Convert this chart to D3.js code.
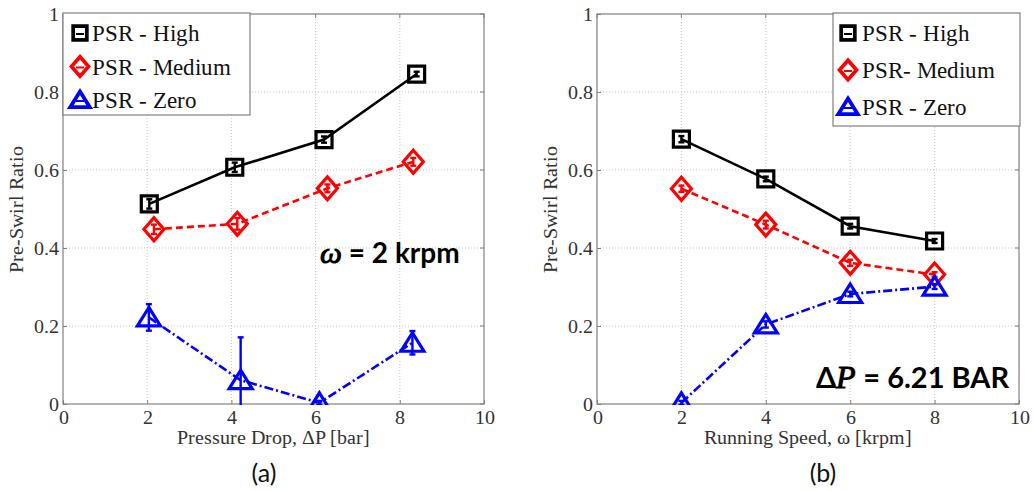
<!DOCTYPE html>
<html>
<head>
<meta charset="utf-8">
<script src="https://cdn.jsdelivr.net/npm/d3@7"></script>
<style>
  @font-face {
    font-family: "PlotSerif";
    src: local("Liberation Serif"), local("LiberationSerif"), local("LiberationSerif-Regular"),
         local("Times New Roman"), local("DejaVu Serif"), local("DejaVuSerif"), local("Noto Serif");
  }
  @font-face {
    font-family: "PlotSerif";
    font-style: italic;
    src: local("Liberation Serif Italic"), local("LiberationSerif-Italic"),
         local("DejaVu Serif Italic"), local("DejaVuSerif-Italic");
  }
  html, body { margin: 0; padding: 0; background: #fff; }
  svg { display: block; }
  .serif { font-family: "PlotSerif", "Liberation Serif", "DejaVu Serif", serif; }
</style>
</head>
<body>
<svg id="chart" width="1034" height="491"></svg>
<script>
// Pre-swirl ratio measurements, panel (a): varying pressure drop at 2 krpm
const seriesNames = ["PSR - High", "PSR - Medium", "PSR - Zero"];
const seriesNamesB = ["PSR - High", "PSR- Medium", "PSR - Zero"];

const dpHigh = [2.05, 4.08, 6.2, 8.4];
const dpMedium = [2.16, 4.14, 6.28, 8.32];
const dpZero = [2.04, 4.22, 6.09, 8.3];
const psrHighA = [0.513, 0.607, 0.678, 0.846];
const psrMediumA = [0.448, 0.462, 0.553, 0.621];
const psrZeroA = [0.222, 0.061, 0.003, 0.157];
const errHighA = [0.012, 0.012, 0.008, 0.006];
const errMediumA = [0.012, 0.015, 0.01, 0.01];
const errZeroA = [0.034, 0.11, 0.005, 0.03];

// Panel (b): varying running speed at 6.21 bar
const speed = [2, 4, 6, 8];
const psrHighB = [0.679, 0.577, 0.456, 0.418];
const psrMediumB = [0.552, 0.46, 0.362, 0.332];
const psrZeroB = [0.003, 0.204, 0.282, 0.301];
const errHighB = [0.008, 0.006, 0.006, 0.005];
const errMediumB = [0.008, 0.01, 0.008, 0.006];
const errZeroB = [0.005, 0.008, 0.006, 0.006];

const xTicks = [0, 2, 4, 6, 8, 10];
const yTicks = [0, 0.2, 0.4, 0.6, 0.8, 1];

const styles = [
  { color: "#000000", dash: null, marker: "square" },
  { color: "#ff0000", dash: "7,4", marker: "diamond" },
  { color: "#0000ff", dash: "9,3,2,3", marker: "triangle" }
];

const svg = d3.select("#chart");

function markerPath(type) {
  if (type === "square") return "M-8,-8H8V8H-8Z";
  if (type === "diamond") return "M0,-11.5L10,0L0,11.5L-10,0Z";
  return "M0,-10L11.5,8.5H-11.5Z";
}

function drawPanel(opts) {
  const g = svg.append("g");
  const x = d3.scaleLinear().domain([0, 10]).range([opts.left, opts.right]);
  const y = d3.scaleLinear().domain([0, 1]).range([404, 14]);

  // dotted grid
  g.append("g").selectAll("line").data(xTicks.slice(1, -1)).join("line")
    .attr("x1", d => x(d)).attr("x2", d => x(d)).attr("y1", y(0)).attr("y2", y(1))
    .attr("stroke", "#c8c8c8").attr("stroke-width", 1).attr("stroke-dasharray", "1,2");
  g.append("g").selectAll("line").data(yTicks.slice(1, -1)).join("line")
    .attr("y1", d => y(d)).attr("y2", d => y(d)).attr("x1", x(0)).attr("x2", x(10))
    .attr("stroke", "#c8c8c8").attr("stroke-width", 1).attr("stroke-dasharray", "1,2");

  // axes with inward ticks
  const xAxis = d3.axisBottom(x).tickValues(xTicks).tickSize(-4).tickPadding(6).tickFormat(d3.format("d"));
  const yAxis = d3.axisLeft(y).tickValues(yTicks).tickSize(-4).tickPadding(4).tickFormat(d => d === 0 || d === 1 ? String(d) : d3.format(".1f")(d));
  const xa = g.append("g").attr("transform", `translate(0,${y(0)})`).call(xAxis);
  const ya = g.append("g").attr("transform", `translate(${x(0)},0)`).call(yAxis);
  [xa, ya].forEach(a => {
    a.attr("font-family", null).attr("font-size", null);
    a.select(".domain").remove();
    a.selectAll("line").attr("stroke", "#808080");
    a.selectAll("text").attr("class", "serif").attr("fill", "#333").style("font-size", "20px");
  });
  // top ticks and right ticks
  g.append("g").selectAll("line").data(xTicks).join("line")
    .attr("x1", d => x(d)).attr("x2", d => x(d)).attr("y1", y(1)).attr("y2", y(1) + 4).attr("stroke", "#808080");
  g.append("g").selectAll("line").data(yTicks).join("line")
    .attr("y1", d => y(d)).attr("y2", d => y(d)).attr("x1", x(10)).attr("x2", x(10) - 4).attr("stroke", "#808080");
  g.append("rect").attr("x", x(0)).attr("y", y(1)).attr("width", x(10) - x(0)).attr("height", y(0) - y(1))
    .attr("fill", "none").attr("stroke", "#808080").attr("stroke-width", 1.2);

  // clip region for data marks
  const clipId = "clip" + opts.id;
  svg.append("clipPath").attr("id", clipId).append("rect")
    .attr("x", x(0)).attr("y", y(1)).attr("width", x(10) - x(0)).attr("height", y(0) - y(1) + 1);

  const dataG = g.append("g").attr("clip-path", `url(#${clipId})`);
  const line = d3.line().x(d => x(d.x)).y(d => y(d.y));

  opts.series.forEach((s, i) => {
    const st = styles[i];
    const pts = s.xs.map((v, j) => ({ x: v, y: s.ys[j], e: s.err[j] }));
    const sg = dataG.append("g");
    sg.append("path").datum(pts).attr("d", line).attr("fill", "none")
      .attr("stroke", st.color).attr("stroke-width", 2.6)
      .attr("stroke-dasharray", st.dash);
    // error bars
    const eb = sg.selectAll(".eb").data(pts).join("g");
    eb.append("line").attr("x1", d => x(d.x)).attr("x2", d => x(d.x))
      .attr("y1", d => y(d.y - d.e)).attr("y2", d => y(d.y + d.e))
      .attr("stroke", st.color).attr("stroke-width", 2.4);
    eb.append("line").attr("x1", d => x(d.x) - 3).attr("x2", d => x(d.x) + 3)
      .attr("y1", d => y(d.y + d.e)).attr("y2", d => y(d.y + d.e))
      .attr("stroke", st.color).attr("stroke-width", 2.4);
    eb.append("line").attr("x1", d => x(d.x) - 3).attr("x2", d => x(d.x) + 3)
      .attr("y1", d => y(d.y - d.e)).attr("y2", d => y(d.y - d.e))
      .attr("stroke", st.color).attr("stroke-width", 2.4);
    // markers
    sg.selectAll(".mk").data(pts).join("path")
      .attr("transform", d => `translate(${x(d.x)},${y(d.y)})`)
      .attr("d", markerPath(st.marker)).attr("fill", "none")
      .attr("stroke", st.color).attr("stroke-width", 3.2).attr("stroke-linejoin", "miter");
  });

  // legend
  const lg = g.append("g");
  lg.append("rect").attr("x", opts.legend.x).attr("y", opts.legend.y)
    .attr("width", opts.legend.w).attr("height", opts.legend.h)
    .attr("fill", "#fff").attr("stroke", "#808080").attr("stroke-width", 1.2);
  opts.names.forEach((n, i) => {
    const st = styles[i];
    const cy = opts.legend.y + opts.legend.row0 + i * opts.legend.dy;
    const mx = opts.legend.x + opts.legend.mx;
    lg.append("path").attr("transform", `translate(${mx},${cy}) scale(0.85)`).attr("d", markerPath(st.marker))
      .attr("fill", "none").attr("stroke", st.color).attr("stroke-width", 4.4);
    lg.append("line").attr("x1", mx - 4).attr("x2", mx + 4).attr("y1", cy + 1).attr("y2", cy + 1)
      .attr("stroke", st.color).attr("stroke-width", 2);
    lg.append("text").attr("class", "serif").attr("x", mx + opts.legend.tdx).attr("y", cy + 8).text(n)
      .style("font-size", "23px").attr("fill", "#111");
  });

  // axis titles
  g.append("text").attr("class", "serif").attr("x", (x(0) + x(10)) / 2).attr("y", 444).attr("text-anchor", "middle")
    .style("font-size", "20px").attr("fill", "#333").text(opts.xTitle);
  g.append("text").attr("class", "serif").attr("transform", `translate(${opts.left - 40},${y(0.5)}) rotate(-90)`)
    .attr("text-anchor", "middle").style("font-size", "20px")
    .attr("fill", "#333").text("Pre-Swirl Ratio");

  // panel label
  g.append("text").attr("x", opts.labelX).attr("y", 482).attr("text-anchor", "middle")
    .style("font-family", "Lato, 'Open Sans', sans-serif").style("font-size", "25px").attr("fill", "#111")
    .text(opts.label);

  return g;
}

const gA = drawPanel({
  id: "a", left: 63, right: 484,
  series: [
    { xs: dpHigh, ys: psrHighA, err: errHighA },
    { xs: dpMedium, ys: psrMediumA, err: errMediumA },
    { xs: dpZero, ys: psrZeroA, err: errZeroA }
  ],
  names: seriesNames,
  legend: { x: 63, y: 13, w: 187, h: 102, row0: 20, dy: 33.5, mx: 17, tdx: 12 },
  xTitle: "Pressure Drop, \u0394P [bar]",
  label: "(a)", labelX: 264
});

const gB = drawPanel({
  id: "b", left: 597, right: 1019,
  series: [
    { xs: speed, ys: psrHighB, err: errHighB },
    { xs: speed, ys: psrMediumB, err: errMediumB },
    { xs: speed, ys: psrZeroB, err: errZeroB }
  ],
  names: seriesNamesB,
  legend: { x: 833, y: 13, w: 187, h: 113, row0: 20, dy: 37, mx: 15, tdx: 14 },
  xTitle: "Running Speed, \u03c9 [krpm]",
  label: "(b)", labelX: 823
});

// operating-condition annotations
const annoFont = "Lato, 'Open Sans', sans-serif";
const tA = gA.append("text").attr("x", 320).attr("y", 263)
  .style("font-family", annoFont).style("font-size", "28px").style("font-weight", "bold").attr("fill", "#000");
tA.append("tspan").attr("class", "serif").style("font-style", "italic").style("font-size", "31px").text("\u03c9");
tA.append("tspan").text(" = 2 krpm");

const tB = gB.append("text").attr("x", 816).attr("y", 388)
  .style("font-family", annoFont).style("font-size", "29px").style("font-weight", "bold").attr("fill", "#000");
tB.append("tspan").text("\u0394");
tB.append("tspan").attr("class", "serif").style("font-style", "italic").style("font-size", "32px").text("P");
tB.append("tspan").text(" = 6.21 BAR");
</script>
</body>
</html>
